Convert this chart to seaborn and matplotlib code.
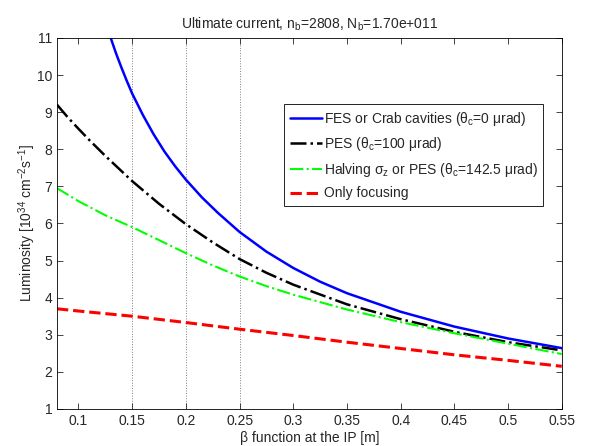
import numpy as np
import pandas as pd
import matplotlib
matplotlib.use('Agg')
import matplotlib.pyplot as plt
import seaborn as sns

sns.set_style('ticks')
plt.rcParams['font.family'] = ['Liberation Sans', 'DejaVu Sans']
plt.rcParams['mathtext.fontset'] = 'custom'
plt.rcParams['mathtext.rm'] = 'Liberation Sans'
plt.rcParams['mathtext.it'] = 'Liberation Sans'
plt.rcParams['font.size'] = 10

# ========== data ==========
beta_fes = [0.13, 0.135, 0.14, 0.145, 0.15, 0.16, 0.17, 0.18, 0.19, 0.2, 0.215, 0.23, 0.25,
            0.275, 0.3, 0.325, 0.35, 0.4, 0.45, 0.5, 0.55]
lumi_fes = [11.0, 10.58, 10.2, 9.84, 9.5, 8.92, 8.4, 7.94, 7.54, 7.18, 6.7, 6.28, 5.77,
            5.24, 4.8, 4.43, 4.12, 3.62, 3.22, 2.9, 2.64]

beta_pes = [0.08, 0.09, 0.1, 0.11, 0.125, 0.15, 0.175, 0.2, 0.225, 0.25, 0.275, 0.3, 0.35,
            0.4, 0.45, 0.5, 0.55]
lumi_pes = [9.2, 8.86, 8.55, 8.25, 7.82, 7.14, 6.53, 5.98, 5.49, 5.04, 4.67, 4.35, 3.82,
            3.42, 3.08, 2.8, 2.58]

beta_half = [0.08, 0.1, 0.125, 0.15, 0.175, 0.2, 0.225, 0.25, 0.275, 0.3, 0.35, 0.4, 0.45,
             0.5, 0.55]
lumi_half = [6.95, 6.6, 6.22, 5.9, 5.55, 5.2, 4.87, 4.57, 4.31, 4.08, 3.68, 3.34, 3.04,
             2.76, 2.48]

beta_foc = [0.08, 0.1, 0.15, 0.2, 0.25, 0.3, 0.35, 0.4, 0.45, 0.5, 0.55]
lumi_foc = [3.70, 3.64, 3.50, 3.33, 3.15, 2.98, 2.80, 2.63, 2.46, 2.31, 2.15]

grid_x = [0.15, 0.2, 0.25]
x_ticks = [0.1, 0.15, 0.2, 0.25, 0.3, 0.35, 0.4, 0.45, 0.5, 0.55]
x_ticklabels = ['0.1', '0.15', '0.2', '0.25', '0.3', '0.35', '0.4', '0.45', '0.5', '0.55']
y_ticks = list(range(1, 12))

fig = plt.figure(figsize=(5.97, 4.46), dpi=100)
ax = fig.add_axes([0.0955, 0.083, 0.8455, 0.832])

for gx in grid_x:
    ax.axvline(gx, color='#808080', ls=':', lw=0.7, zorder=0)

sns.lineplot(x=beta_fes, y=lumi_fes, ax=ax, color='#0000ff', lw=1.8, ls='-',
             label=r'FES or Crab cavities (θ$_\mathrm{c}$=0 μrad)')
sns.lineplot(x=beta_pes, y=lumi_pes, ax=ax, color='black', lw=1.8, ls='-.',
             label=r'PES (θ$_\mathrm{c}$=100 μrad)')
sns.lineplot(x=beta_half, y=lumi_half, ax=ax, color='#00ff00', lw=1.5, ls='-.',
             label=r'Halving σ$_\mathrm{z}$ or PES (θ$_\mathrm{c}$=142.5 μrad)')
sns.lineplot(x=beta_foc, y=lumi_foc, ax=ax, color='#ff0000', lw=2.2, ls='--',
             label='Only focusing')

ax.set_xlim(0.08, 0.55)
ax.set_ylim(1, 11)
ax.set_xticks(x_ticks)
ax.set_xticklabels(x_ticklabels)
ax.set_yticks(y_ticks)
ax.tick_params(direction='in', top=True, right=True, length=4, width=0.6, labelsize=10)
for s in ax.spines.values():
    s.set_linewidth(0.6)
    s.set_color('black')

ax.set_xlabel('β function at the IP [m]', fontsize=10, labelpad=2)
ax.set_ylabel(r'Luminosity [10$^{34}$ cm$^{-2}$s$^{-1}$]', fontsize=10, labelpad=-1)
ax.set_title(r'Ultimate current, n$_\mathrm{b}$=2808, N$_\mathrm{b}$=1.70e+011', fontsize=10, pad=7)

leg = ax.legend(loc='upper left', bbox_to_anchor=(0.45, 0.822), fancybox=False,
                edgecolor='black', framealpha=1, fontsize=10, handlelength=2.3,
                handletextpad=0.15, borderpad=0.4, labelspacing=0.55, borderaxespad=0)
leg.get_frame().set_linewidth(0.6)

fig.savefig('out.png', dpi=100)
